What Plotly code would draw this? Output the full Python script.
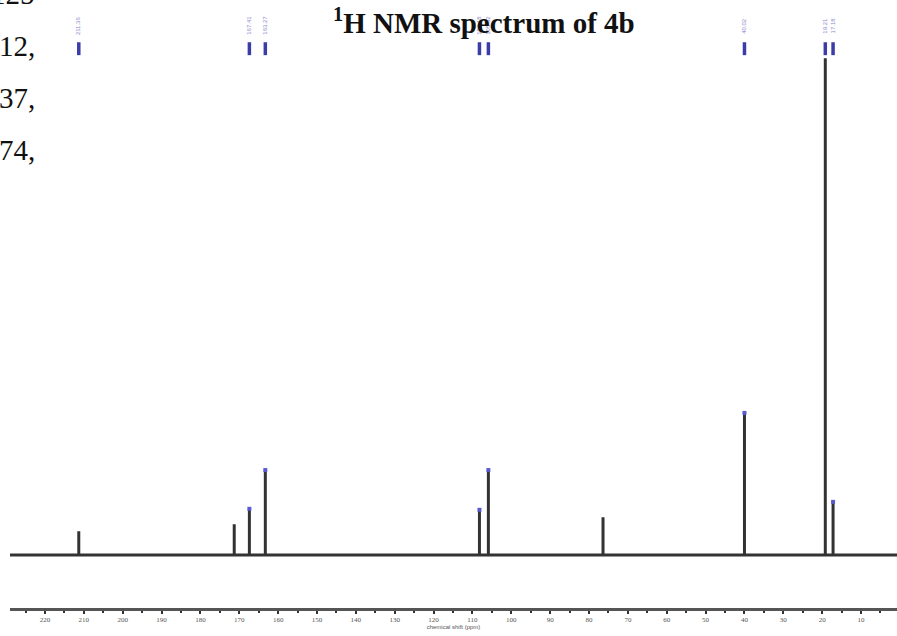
import plotly.graph_objects as go

# ---- data ----
peak_ppm = [211.3, 171.3, 167.4, 163.3, 108.2, 105.9, 76.4, 40.0, 19.2, 17.2]
peak_height = [4.8, 6.2, 9.3, 17.1, 9.1, 17.1, 7.6, 28.6, 100.0, 10.7]
peak_labelled = [True, False, True, True, True, True, False, True, True, True]
peak_dot = [False, False, True, True, True, True, False, True, False, True]
peak_text = ["211.36", "171.28", "167.41", "163.27", "108.18", "105.92", "76.43", "40.02", "19.21", "17.18"]
side_text = ["125", "12,", "37,", "74,"]
x_range = [229.0, 0.75]
y_range = [-10.66, 111.7]

# ---- build spectrum line (baseline with sticks) ----
order = sorted(range(len(peak_ppm)), key=lambda i: -peak_ppm[i])
sx, sy = [x_range[0]], [0]
for i in order:
    sx += [peak_ppm[i], peak_ppm[i], peak_ppm[i]]
    sy += [0, peak_height[i], 0]
sx.append(x_range[1]); sy.append(0)

fig = go.Figure()
fig.add_trace(go.Scatter(x=sx, y=sy, mode="lines",
                         line=dict(color="#333333", width=3), hoverinfo="skip"))

# blue dots at peak tops
fig.add_trace(go.Scatter(
    x=[p for p, d in zip(peak_ppm, peak_dot) if d],
    y=[h for h, d in zip(peak_height, peak_dot) if d],
    mode="markers", marker=dict(color="#5a5ad0", size=4, symbol="square"),
    hoverinfo="skip"))

# blue label bars near top
bx, by = [], []
for p, l in zip(peak_ppm, peak_labelled):
    if l:
        bx += [p, p, None]
        by += [103.2, 100.6, None]
fig.add_trace(go.Scatter(x=bx, y=by, mode="lines",
                         line=dict(color="#3c3ca8", width=3.5), hoverinfo="skip"))

# blue vertical labels
for p, l, t in zip(peak_ppm, peak_labelled, peak_text):
    if l:
        fig.add_annotation(x=p, y=106.6, text=t, showarrow=False, textangle=-90,
                           font=dict(family="Liberation Sans", size=6, color="#8888cc"))

# title
fig.add_annotation(xref="paper", yref="paper", x=0.534, y=0.999, yanchor="top",
                   text="<b><sup>1</sup>H NMR spectrum of 4b</b>", showarrow=False,
                   font=dict(family="Liberation Serif", size=29, color="#111111"))

# surrounding text fragments on the left
for k, t in enumerate(side_text):
    ypx = -6 + 52 * k
    fig.add_annotation(xref="paper", yref="paper", x=0.03, xanchor="right",
                       y=1 - ypx / 608.0, yanchor="middle", text=t, showarrow=False,
                       font=dict(family="Liberation Serif", size=29, color="#111111"))

fig.update_layout(
    width=897, height=636,
    margin=dict(l=10, r=0, t=0, b=28),
    paper_bgcolor="white", plot_bgcolor="white",
    showlegend=False,
    xaxis=dict(range=x_range, dtick=10, tick0=0, showgrid=False, zeroline=False,
               showline=True, linecolor="#555555", linewidth=2.5,
               ticks="outside", ticklen=3, tickwidth=2, tickcolor="#333333",
               minor=dict(dtick=5, ticks="outside", ticklen=2, tickwidth=2, tickcolor="#333333"),
               tickfont=dict(family="Liberation Serif", size=7, color="#555555"),
               title=dict(text="chemical shift (ppm)", standoff=2,
                          font=dict(family="Liberation Sans", size=6, color="#555555"))),
    yaxis=dict(range=y_range, visible=False, showgrid=False, zeroline=False),
)

fig.write_html("out.html")
